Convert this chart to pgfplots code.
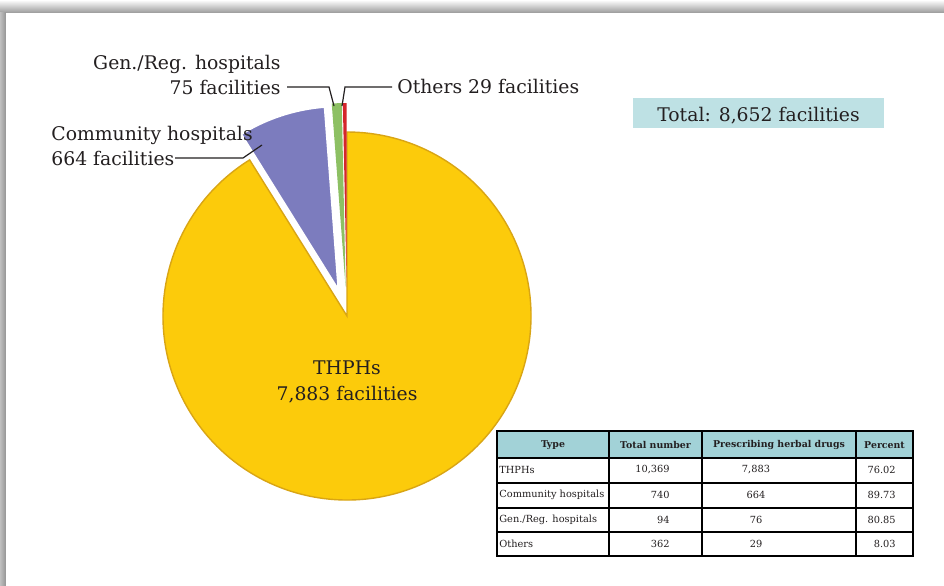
\documentclass[border=0pt]{standalone}
\usepackage{pgfplots}
\pgfplotsset{compat=1.18}
\usepackage{pgfplotstable}
\usepackage{fontspec}
\setmainfont{DejaVu Serif}
\usetikzlibrary{calc}
\definecolor{pyellow}{HTML}{FCCB0B}
\definecolor{pyedge}{HTML}{D9A514}
\definecolor{ppurple}{HTML}{7C7CBE}
\definecolor{pgreen}{HTML}{8DC063}
\definecolor{pred}{HTML}{D4262B}
\definecolor{tealhead}{HTML}{A2D2D7}
\definecolor{tealbox}{HTML}{BEE1E4}
\definecolor{txt}{HTML}{231F20}
\newcommand\lab{\fontsize{9.4bp}{11bp}\selectfont}
\newcommand\tab{\fontsize{4.9bp}{6bp}\selectfont}
\newcommand\tabh{\fontsize{4.7bp}{6bp}\selectfont\bfseries}

\pgfplotstableread{
type value
THPHs 7883
Community 664
GenReg 75
Others 29
}\piedata

\begin{document}
\pgfplotstablegetelem{0}{value}\of\piedata\edef\vA{\pgfplotsretval}%
\pgfplotstablegetelem{1}{value}\of\piedata\edef\vB{\pgfplotsretval}%
\pgfplotstablegetelem{2}{value}\of\piedata\edef\vC{\pgfplotsretval}%
\pgfplotstablegetelem{3}{value}\of\piedata\edef\vD{\pgfplotsretval}%
\pgfmathsetmacro\tot{\vA+\vB+\vC+\vD}%
\pgfmathsetmacro\aD{90+360*(\vD/\tot)}%
\pgfmathsetmacro\aC{\aD+360*(\vC/\tot)}%
\pgfmathsetmacro\aB{\aC+360*(\vB/\tot)}%
\begin{tikzpicture}
\begin{axis}[width=472bp,height=293bp,scale only axis,
  xmin=0,xmax=944,ymin=0,ymax=586,y dir=reverse,hide axis,clip=false]
% background card with shadow
\fill[white] (axis cs:0,0) rectangle (axis cs:944,586);
\shade[top color=white,bottom color=black!40] (axis cs:0,0) rectangle (axis cs:944,13);
\shade[left color=black!25,right color=black!42] (axis cs:0,13) rectangle (axis cs:6,586);
\fill[white] (axis cs:6,13) rectangle (axis cs:944,586);
% pie slices
\fill[pyellow,draw=pyedge,line width=0.7bp] (axis cs:347,316) -- +(\aB:92bp)
  arc[start angle=\aB,end angle=450,radius=92bp] -- cycle;
\fill[ppurple,draw=white,line width=1bp] ($(axis cs:347,316)+({(\aC+\aB)/2}:13.5bp)$) -- +(\aC:92bp)
  arc[start angle=\aC,end angle=\aB,radius=92bp] -- cycle;
\fill[pgreen] ($(axis cs:347,316)+({(\aD+\aC)/2}:14.5bp)$) -- +(\aD:92bp)
  arc[start angle=\aD,end angle=\aC,radius=92bp] -- cycle;
\fill[pred] ($(axis cs:347,316)+({(90+\aD)/2}:14.5bp)$) -- +(90:92bp)
  arc[start angle=90,end angle=\aD,radius=92bp] -- cycle;
% labels
\begin{scope}[every node/.style={inner sep=0pt,text=txt,font=\lab}]
\node[anchor=base east] at (axis cs:281,69) {Gen./Reg. hospitals};
\node[anchor=base east] at (axis cs:281,94) {75 facilities};
\node[anchor=base west] at (axis cs:397,93) {Others 29 facilities};
\node[anchor=base west] at (axis cs:51,140) {Community hospitals};
\node[anchor=base west] at (axis cs:51,165) {664 facilities};
\node[anchor=base] at (axis cs:347,374) {THPHs};
\node[anchor=base] at (axis cs:347,400) {7,883 facilities};
\end{scope}
\draw[txt,line width=0.6bp] (axis cs:287,87) -- (axis cs:329,87) -- (axis cs:334,106);
\draw[txt,line width=0.6bp] (axis cs:392,87) -- (axis cs:345,87) -- (axis cs:342,106);
\draw[txt,line width=0.6bp] (axis cs:175,158) -- (axis cs:243,158) -- (axis cs:262,145);
% total box
\fill[tealbox] (axis cs:633,98) rectangle (axis cs:884,128);
\node[inner sep=0pt,text=txt,font=\lab,anchor=base] at (axis cs:758.5,121) {Total: 8,652 facilities};
% table
\fill[tealhead] (axis cs:497,431) rectangle (axis cs:913,458);
\draw[black,line width=1bp] (axis cs:497,431) rectangle (axis cs:913,556);
\draw[black,line width=1bp] (axis cs:497,458) -- (axis cs:913,458);
\draw[black,line width=1bp] (axis cs:497,483) -- (axis cs:913,483);
\draw[black,line width=1bp] (axis cs:497,508) -- (axis cs:913,508);
\draw[black,line width=1bp] (axis cs:497,532) -- (axis cs:913,532);
\draw[black,line width=1bp] (axis cs:609,431) -- (axis cs:609,556);
\draw[black,line width=1bp] (axis cs:702,431) -- (axis cs:702,556);
\draw[black,line width=1bp] (axis cs:856,431) -- (axis cs:856,556);
\begin{scope}[every node/.style={inner sep=0pt,text=txt}]
\node[font=\tabh] at (axis cs:553,445) {Type};
\node[font=\tabh] at (axis cs:655.5,445) {Total number};
\node[font=\tabh] at (axis cs:779,445) {Prescribing herbal drugs};
\node[font=\tabh] at (axis cs:884.5,445) {Percent};
\node[font=\tab,anchor=west] at (axis cs:499,470) {THPHs};
\node[font=\tab,anchor=west] at (axis cs:499,495) {Community hospitals};
\node[font=\tab,anchor=west] at (axis cs:499,520) {Gen./Reg. hospitals};
\node[font=\tab,anchor=west] at (axis cs:499,544) {Others};
\node[font=\tab,anchor=east] at (axis cs:670,470) {10,369};
\node[font=\tab,anchor=east] at (axis cs:670,495) {740};
\node[font=\tab,anchor=east] at (axis cs:670,520) {94};
\node[font=\tab,anchor=east] at (axis cs:670,544) {362};
\node[font=\tab] at (axis cs:756,470) {7,883};
\node[font=\tab] at (axis cs:756,495) {664};
\node[font=\tab] at (axis cs:756,520) {76};
\node[font=\tab] at (axis cs:756,544) {29};
\node[font=\tab,anchor=east] at (axis cs:896,470) {76.02};
\node[font=\tab,anchor=east] at (axis cs:896,495) {89.73};
\node[font=\tab,anchor=east] at (axis cs:896,520) {80.85};
\node[font=\tab,anchor=east] at (axis cs:896,544) {8.03};
\end{scope}
\end{axis}
\end{tikzpicture}
\end{document}
